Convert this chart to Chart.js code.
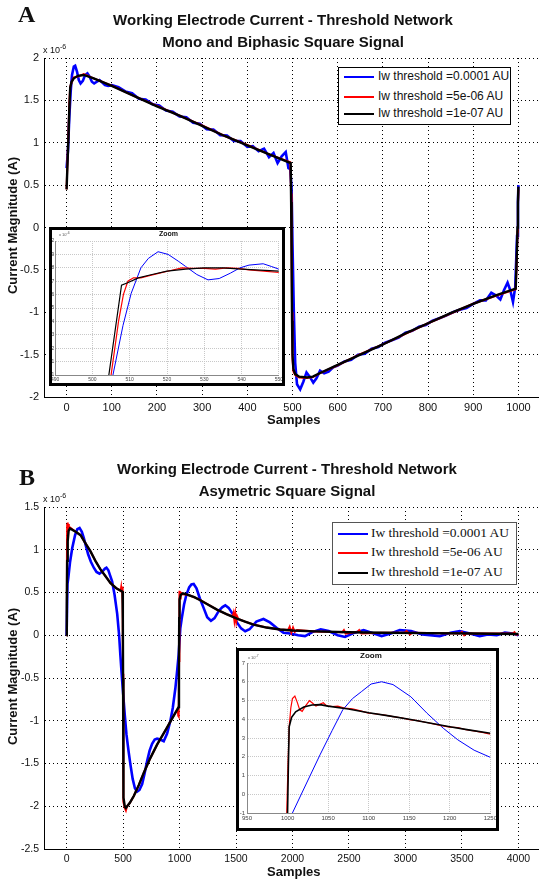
<!DOCTYPE html>
<html>
<head>
<meta charset="utf-8">
<script src="https://cdn.jsdelivr.net/npm/chart.js@4.4.0/dist/chart.umd.min.js"></script>
<style>
html, body { margin: 0; padding: 0; background: #fff; overflow: hidden; }
body { width: 539px; height: 884px; position: relative; font-family: 'Liberation Sans', Arial, sans-serif; color: #111; }
canvas { position: absolute; }
.txt { position: absolute; white-space: nowrap; }
.letter { font-family: 'Liberation Serif', 'Times New Roman', serif; font-weight: bold; font-size: 24px; }
.title { font-weight: bold; font-size: 15px; text-align: center; width: 400px; line-height: 22px; }
.axt { font-weight: bold; font-size: 13px; }
.ylab { transform: rotate(-90deg); transform-origin: center center; width: 180px; text-align: center; }
.expo { font-size: 9px; }
.expo sup { font-size: 7px; }
.legend { position: absolute; background: #fff; border: 1px solid #000; }
.legend .sw { position: absolute; height: 2px; }
.legend .lt { position: absolute; font-size: 12px; }
.box { position: absolute; border: 3px solid #000; box-sizing: border-box; }
.zt { position: absolute; font-weight: bold; }
</style>
</head>
<body>

<canvas id="chartA" width="541" height="440" style="left:0;top:0"></canvas>
<canvas id="chartB" width="541" height="444" style="left:0;top:440px"></canvas>
<canvas id="zoomA" width="236" height="159" style="left:49px;top:227px;background:#fff"></canvas>
<canvas id="zoomB" width="263" height="183" style="left:236px;top:648px;background:#fff"></canvas>

<div class="box" style="left:49px;top:227px;width:236px;height:159px"></div>
<div class="box" style="left:236px;top:648px;width:263px;height:183px"></div>

<div class="txt letter" style="left:18px;top:1px">A</div>
<div class="txt letter" style="left:19px;top:464px">B</div>

<div class="txt title" style="left:83px;top:9px">Working Electrode Current - Threshold Network<br>Mono and Biphasic Square Signal</div>
<div class="txt title" style="left:87px;top:458px">Working Electrode Current - Threshold Network<br>Asymetric Square Signal</div>

<div class="txt expo" style="left:43px;top:43px">x 10<sup>-6</sup></div>
<div class="txt expo" style="left:43px;top:492px">x 10<sup>-6</sup></div>

<div class="txt axt ylab" style="left:-78px;top:218px">Current Magnitude (A)</div>
<div class="txt axt ylab" style="left:-78px;top:669px">Current Magnitude (A)</div>
<div class="txt axt" style="left:267px;top:412px">Samples</div>
<div class="txt axt" style="left:267px;top:864px">Samples</div>

<div class="zt" style="left:159px;top:230px;font-size:7px">Zoom</div>
<div class="zt" style="left:360px;top:651px;font-size:8px">Zoom</div>
<div class="txt" style="left:59px;top:231px;font-size:4px;color:#555">x 10<sup>-6</sup></div>
<div class="txt" style="left:248px;top:654px;font-size:4px;color:#555">x 10<sup>-7</sup></div>

<div id="legA" class="legend" style="left:338px;top:67px;width:171px;height:56px"></div>
<div id="legB" class="legend" style="left:332px;top:522px;width:183px;height:61px;border-color:#555"></div>

<script>
// series names and colours
const seriesNames = ['Iw threshold =0.0001 AU', 'Iw threshold =5e-06 AU', 'Iw threshold =1e-07 AU'];
const seriesColors = ['#0000ff', '#ff0000', '#000000'];

// ticks
const aXTicks = [0, 100, 200, 300, 400, 500, 600, 700, 800, 900, 1000];
const aYTicks = [-2, -1.5, -1, -0.5, 0, 0.5, 1, 1.5, 2];
const bXTicks = [0, 500, 1000, 1500, 2000, 2500, 3000, 3500, 4000];
const bYTicks = [-2.5, -2, -1.5, -1, -0.5, 0, 0.5, 1, 1.5];
const zaXTicks = [490, 500, 510, 520, 530, 540, 550];
const zaYTicks = [1, 1.1, 1.2, 1.3, 1.4, 1.5, 1.6, 1.7, 1.8, 1.9, 2];
const zbXTicks = [950, 1000, 1050, 1100, 1150, 1200, 1250];
const zbYTicks = [-1, 0, 1, 2, 3, 4, 5, 6, 7];

// panel A (x 1e-6 A)
const aBlack = [[0,0.45],[2,0.75],[4,1.05],[6,1.4],[8,1.65],[11,1.72],[16,1.76],[25,1.79],[38,1.80],[60,1.76],[100,1.67],[150,1.55],[200,1.43],[250,1.32],[300,1.20],[350,1.08],[400,0.97],[450,0.86],[496,0.76],
  [497,0.3],[498,-0.4],[499,-1.1],[500,-1.5],[502,-1.67],[506,-1.73],[515,-1.76],[532,-1.77],[545,-1.76],[560,-1.72],[600,-1.62],[650,-1.50],[700,-1.38],[750,-1.25],[800,-1.13],[850,-1.01],[900,-0.90],[950,-0.80],[994,-0.72],
  [996,-0.4],[998,0.0],[999,0.3],[1000,0.48]];
const aRed = [[0,0.45],[2,0.8],[4,1.1],[6,1.45],[8,1.66],[11,1.71],[16,1.77],[25,1.78],[38,1.81],[60,1.76],[100,1.675],[150,1.55],[200,1.435],[250,1.32],[300,1.205],[350,1.08],[400,0.975],[450,0.86],[495,0.77],
  [497,0.4],[498,-0.3],[499,-1.0],[500,-1.55],[502,-1.7],[506,-1.74],[515,-1.77],[532,-1.775],[545,-1.765],[560,-1.72],[600,-1.625],[650,-1.495],[700,-1.38],[750,-1.255],[800,-1.13],[850,-1.015],[900,-0.9],[950,-0.805],[994,-0.73],
  [996,-0.45],[998,-0.05],[999,0.25],[1000,0.45]];
const aBlue = [[0,0.7],[3,0.9],[6,1.3],[9,1.6],[12,1.8],[16,1.9],[19,1.91],[23,1.84],[27,1.74],[31,1.70],[36,1.73],[41,1.80],[46,1.82],[51,1.78],[56,1.72],[61,1.70],[67,1.72],[73,1.74],[79,1.71],[85,1.68],[92,1.67],[100,1.68],
  [115,1.655],[130,1.605],[145,1.585],[160,1.52],[175,1.51],[190,1.455],[205,1.44],[220,1.38],[235,1.365],[250,1.31],[265,1.30],[280,1.235],[295,1.225],[310,1.16],[325,1.155],[340,1.09],[355,1.085],[370,1.02],[385,1.02],[400,0.95],[412,0.96],[425,0.90],[437,0.93],[448,0.83],[458,0.88],[467,0.76],[476,0.84],[485,0.89],[491,0.70],[495,0.69],
  [498,0.45],[500,-0.2],[503,-1.0],[506,-1.6],[510,-1.85],[517,-1.91],[524,-1.82],[531,-1.71],[538,-1.76],[546,-1.83],[553,-1.78],[561,-1.69],[570,-1.72],[580,-1.70],[590,-1.65],[600,-1.63],
  [615,-1.58],[630,-1.56],[645,-1.50],[660,-1.49],[675,-1.43],[690,-1.41],[705,-1.36],[720,-1.33],[735,-1.30],[750,-1.24],[765,-1.22],[780,-1.17],[795,-1.15],[810,-1.10],[825,-1.07],[840,-1.04],[855,-1.00],[870,-0.97],[885,-0.95],[900,-0.90],[915,-0.86],[928,-0.86],[940,-0.77],[950,-0.80],[960,-0.85],[968,-0.74],[976,-0.65],[982,-0.74],[988,-0.88],[993,-0.70],[997,-0.1],[999,0.3],[1000,0.5]];

// panel B (x 1e-6 A)
const bBlack = [[0,0],[2,0.4],[5,0.87],[10,1.1],[18,1.22],[30,1.25],[80,1.21],[124,1.17],[170,1.07],[212,0.98],[255,0.87],[300,0.77],[345,0.69],[389,0.61],[440,0.55],[495,0.51],
  [498,0.2],[500,-0.5],[502,-1.6],[505,-1.9],[515,-2.0],[525,-2.02],[560,-1.96],[595,-1.88],[640,-1.75],[683,-1.61],[740,-1.44],[801,-1.28],[845,-1.18],[889,-1.08],[940,-0.96],[992,-0.84],
  [995,-0.3],[997,0.2],[1000,0.42],[1010,0.47],[1030,0.49],[1080,0.47],[1130,0.445],[1184,0.41],[1250,0.36],[1331,0.30],[1420,0.245],[1508,0.195],[1580,0.16],[1655,0.125],[1770,0.09],[1890,0.067],[2000,0.055],[2200,0.045],[2500,0.035],[2800,0.03],[3200,0.025],[3600,0.02],[4000,0.015]];
const bRed = [[0,0],[3,0.9],[5,1.3],[8,1.32],[12,1.2],[16,1.3],[20,1.24],[30,1.26],[80,1.21],[124,1.17],[170,1.07],[212,0.98],[255,0.87],[300,0.77],[345,0.69],[389,0.61],[440,0.55],[478,0.52],[483,0.56],[487,0.5],[491,0.57],[494,0.42],[496,0.55],[498,0.36],
  [500,-0.5],[501,-0.45],[502,-1.6],[505,-1.95],[515,-2.02],[525,-2.05],[535,-2.0],[560,-1.96],[595,-1.88],[640,-1.75],[683,-1.61],[740,-1.44],[801,-1.28],[845,-1.18],[889,-1.08],[940,-0.96],[985,-0.86],[988,-0.94],[991,-0.81],[994,-0.95],
  [996,-0.3],[998,0.3],[1000,0.52],[1005,0.43],[1010,0.5],[1030,0.48],[1080,0.47],[1130,0.445],[1184,0.41],[1250,0.36],[1331,0.30],[1420,0.245],[1470,0.22],[1478,0.26],[1486,0.17],[1494,0.25],[1502,0.16],[1510,0.22],[1520,0.19],[1580,0.16],[1655,0.125],[1770,0.09],[1890,0.067],
  [1960,0.06],[1975,0.1],[1990,0.03],[2005,0.09],[2020,0.04],[2040,0.06],[2200,0.045],[2440,0.035],[2455,0.06],[2470,0.02],[2575,0.04],[2590,0.06],[2610,0.02],[2800,0.03],[2990,0.03],[3010,0.05],[3040,0.01],[3060,0.03],[3480,0.02],[3500,0.04],[3520,0.0],[3540,0.02],[3950,0.02],[3965,0.035],[3980,0.005],[4000,0.015]];
const bBlue = [[0,0],[8,0.6],[15,0.67],[30,0.85],[50,1.02],[75,1.17],[95,1.24],[115,1.255],[135,1.21],[152,1.14],[168,1.06],[190,0.95],[215,0.86],[241,0.79],[265,0.74],[291,0.72],[320,0.75],[340,0.78],[353,0.79],[370,0.76],[385,0.70],[403,0.63],[425,0.47],[448,0.25],[465,0.0],[477,-0.25],[490,-0.5],
  [501,-0.69],[515,-0.93],[530,-1.16],[548,-1.35],[565,-1.51],[585,-1.68],[605,-1.79],[624,-1.83],[645,-1.81],[669,-1.74],[690,-1.62],[713,-1.47],[735,-1.35],[757,-1.27],[780,-1.22],[801,-1.21],[830,-1.22],[860,-1.24],[890,-1.15],[919,-1.0],[940,-0.85],[963,-0.62],[980,-0.40],[992,-0.23],
  [1007,0.085],[1020,0.2],[1040,0.36],[1060,0.47],[1085,0.56],[1105,0.595],[1125,0.60],[1150,0.55],[1180,0.43],[1213,0.32],[1245,0.21],[1278,0.17],[1310,0.20],[1350,0.29],[1380,0.33],[1405,0.35],[1435,0.32],[1470,0.25],[1508,0.15],[1545,0.08],[1581,0.047],[1620,0.07],[1680,0.16],[1743,0.19],[1800,0.15],[1861,0.085],[1920,0.03],
  [1980,0.02],[2050,0.0],[2111,-0.01],[2180,0.04],[2250,0.07],[2320,0.05],[2400,0.0],[2465,-0.02],[2550,0.03],[2630,0.06],[2700,0.03],[2789,-0.01],[2870,0.02],[2950,0.06],[3050,0.05],[3150,0.01],[3304,-0.01],[3400,0.03],[3480,0.05],[3570,0.02],[3657,-0.01],[3730,0.01],[3808,0.0],[3880,0.03],[3950,0.02],[4000,0.0]];

// zoom A (x 1e-6)
const zaBlack = [[504.4,1.0],[507.8,1.67],[509.6,1.69],[512.3,1.725],[516,1.75],[520,1.775],[525,1.79],[530,1.80],[535,1.80],[540,1.79],[545,1.782],[550,1.775]];
const zaRed = [[505,1.0],[507,1.4],[508.3,1.6],[509.5,1.7],[511,1.725],[513,1.725],[515,1.74],[518,1.76],[521,1.78],[524,1.80],[527,1.795],[530,1.795],[533,1.79],[536,1.80],[539,1.795],[542,1.785],[546,1.775],[550,1.765]];
const zaBlue = [[505.5,1.0],[508.2,1.37],[510.4,1.61],[513,1.8],[515,1.87],[517.6,1.92],[520.3,1.90],[523,1.85],[525,1.81],[528,1.75],[531,1.71],[534,1.72],[537,1.76],[539.6,1.80],[542,1.82],[545.8,1.83],[548,1.81],[550,1.79]];

// zoom B (x 1e-7)
const zbBlack = [[1000,-1],[1001,1.5],[1002,3.6],[1005,4.1],[1010,4.4],[1020,4.65],[1030,4.76],[1040,4.78],[1050,4.7],[1075,4.55],[1100,4.35],[1125,4.18],[1150,4.0],[1175,3.8],[1200,3.6],[1225,3.42],[1250,3.25]];
const zbRed = [[999,-1],[1000.5,1.5],[1002,3.6],[1004,4.6],[1006,5.1],[1009,5.24],[1012,4.9],[1015,4.5],[1018,4.42],[1022,4.7],[1027,4.99],[1031,4.85],[1035,4.7],[1040,4.8],[1044,4.88],[1048,4.72],[1055,4.68],[1062,4.7],[1070,4.6],[1080,4.55],[1090,4.45],[1100,4.33],[1110,4.28],[1120,4.22],[1130,4.14],[1140,4.08],[1150,3.98],[1160,3.93],[1170,3.84],[1180,3.75],[1190,3.66],[1200,3.58],[1210,3.55],[1220,3.44],[1230,3.38],[1240,3.3],[1250,3.2]];
const zbBlue = [[1006,-1],[1020,0.28],[1040,2.1],[1055,3.4],[1068,4.5],[1080,5.1],[1091,5.47],[1103,5.88],[1116,6.0],[1130,5.85],[1152,5.2],[1172,4.32],[1192,3.52],[1210,2.9],[1230,2.35],[1250,1.97]];

function pts(arr) { return arr.map(p => ({ x: p[0], y: p[1] })); }

function sets(blue, red, black, widths) {
    // black drawn on top, then red, then blue
    return [
        { data: pts(black), borderColor: seriesColors[2], borderWidth: widths[2] },
        { data: pts(red), borderColor: seriesColors[1], borderWidth: widths[1] },
        { data: pts(blue), borderColor: seriesColors[0], borderWidth: widths[0] }
    ].map(d => Object.assign(d, { showLine: true, pointRadius: 0, tension: 0, fill: false }));
}

function axis(o) {
    return {
        type: 'linear',
        min: o.min,
        max: o.max,
        afterBuildTicks: s => { s.ticks = o.ticks.map(v => ({ value: v })); },
        afterFit: s => { if (o.w !== undefined) s.width = o.w; if (o.h !== undefined) s.height = o.h; },
        grid: { color: o.gridColor, lineWidth: 1, drawTicks: false },
        border: { display: o.border, color: o.borderColor, width: 1, dash: o.dash },
        ticks: {
            color: o.tickColor, padding: o.pad, autoSkip: false, maxRotation: 0,
            font: { family: "'Liberation Sans', Arial, sans-serif", size: o.size },
            callback: v => String(v)
        }
    };
}

function makeChart(id, datasets, x, y, padding) {
    return new Chart(document.getElementById(id), {
        type: 'scatter',
        data: { datasets: datasets },
        options: {
            responsive: false,
            animation: false,
            devicePixelRatio: 1,
            layout: { padding: padding },
            plugins: { legend: { display: false }, tooltip: { enabled: false }, title: { display: false } },
            scales: { x: x, y: y }
        }
    });
}

// main A: plot area 44..541 x 58..397
makeChart('chartA', sets(aBlue, aRed, aBlack, [2.6, 2, 2.4]),
    axis({ min: -50, max: 1050, ticks: aXTicks, h: 43, gridColor: '#000', border: true, borderColor: '#000', dash: [1, 3], tickColor: '#111', pad: 4, size: 11 }),
    axis({ min: -2, max: 2, ticks: aYTicks, w: 44, gridColor: '#000', border: true, borderColor: '#000', dash: [1, 3], tickColor: '#111', pad: 5, size: 11 }),
    { top: 58, left: 0, right: 0, bottom: 0 });

// main B: plot area 44..541 x 507..849 (canvas top 440)
makeChart('chartB', sets(bBlue, bRed, bBlack, [2.6, 2, 2.4]),
    axis({ min: -200, max: 4200, ticks: bXTicks, h: 35, gridColor: '#000', border: true, borderColor: '#000', dash: [1, 3], tickColor: '#111', pad: 4, size: 10.5 }),
    axis({ min: -2.5, max: 1.5, ticks: bYTicks, w: 44, gridColor: '#000', border: true, borderColor: '#000', dash: [1, 3], tickColor: '#111', pad: 5, size: 10.5 }),
    { top: 67, left: 0, right: 0, bottom: 0 });

// zoom A: plot 55..279 x 241..375
makeChart('zoomA', sets(zaBlue, zaRed, zaBlack, [1, 1.2, 1.2]),
    axis({ min: 490, max: 550, ticks: zaXTicks, h: 11, gridColor: '#c8c8c8', border: true, borderColor: '#888', dash: [1, 1], tickColor: '#444', pad: 2, size: 5 }),
    axis({ min: 1, max: 2, ticks: zaYTicks, w: 6, gridColor: '#c8c8c8', border: true, borderColor: '#888', dash: [1, 1], tickColor: '#444', pad: 1, size: 5 }),
    { top: 14, left: 0, right: 6, bottom: 0 });

// zoom B: plot 247..494 x 663..813
makeChart('zoomB', sets(zbBlue, zbRed, zbBlack, [1, 1.2, 1.6]),
    axis({ min: 950, max: 1250, ticks: zbXTicks, h: 18, gridColor: '#c8c8c8', border: true, borderColor: '#888', dash: [1, 1], tickColor: '#444', pad: 2, size: 6 }),
    axis({ min: -1, max: 7, ticks: zbYTicks, w: 11, gridColor: '#c8c8c8', border: true, borderColor: '#888', dash: [1, 1], tickColor: '#444', pad: 2, size: 6 }),
    { top: 15, left: 0, right: 5, bottom: 0 });

// legends (html so the text stays text)
function legend(id, rows, lineX, lineW, textX, font, size) {
    const box = document.getElementById(id);
    seriesNames.forEach((name, i) => {
        const sw = document.createElement('div');
        sw.className = 'sw';
        sw.style.cssText = 'left:' + lineX + 'px;top:' + (rows[i] - 1) + 'px;width:' + lineW + 'px;background:' + seriesColors[i];
        box.appendChild(sw);
        const t = document.createElement('div');
        t.className = 'lt';
        t.textContent = name;
        t.style.cssText = 'left:' + textX + 'px;top:' + (rows[i] - size * 0.62) + 'px;font-family:' + font + ';font-size:' + size + 'px;line-height:' + size + 'px';
        box.appendChild(t);
    });
}
legend('legA', [9, 29, 46], 5, 30, 39, "'Liberation Sans', Arial, sans-serif", 12);
legend('legB', [11, 30, 50], 5, 30, 38, "'Liberation Serif', 'Times New Roman', serif", 13.5);
</script>
</body>
</html>
